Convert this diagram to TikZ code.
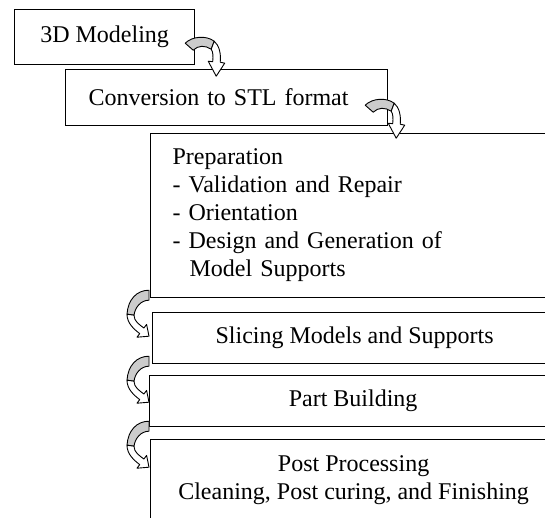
\documentclass[tikz,border=0pt]{standalone}
\usepackage{fontspec}
\setmainfont{Liberation Serif}
\usetikzlibrary{calc}
\definecolor{arrgray}{gray}{0.8}
\tikzset{
  box/.style={draw, line width=1.2pt, inner sep=0pt, anchor=north west,
    font=\fontsize{24}{28}\selectfont},
  arrline/.style={draw=black, line width=0.9pt, line join=round},
  pics/curvR/.style={code={
    \path[arrline, fill=arrgray] (-31,-33) .. controls (-24,-40) and (-10,-41) .. (-2,-35)
      -- (-5,-27) .. controls (-11,-31) and (-18,-31) .. (-23,-26) -- cycle;
    \path[arrline, fill=white] (-2,-35) .. controls (3,-31) and (5,-22) .. (4,-14)
      -- (8.5,-13) -- (0,0) -- (-8,-15) -- (-3.5,-14.5)
      .. controls (-3,-20) and (-3,-24) .. (-5,-27) -- cycle;
  }},
  pics/curvL/.style={code={
    \path[arrline, fill=arrgray] (0,0) .. controls (-12,0) and (-21,9) .. (-22,24)
      -- (-15,25) .. controls (-14,17) and (-8,10) .. (0,10) -- cycle;
    \path[arrline, fill=white] (-22,24) .. controls (-22,33) and (-15,39) .. (-9.3,43.4)
      -- (-12,47) -- (0,46) -- (-2.4,34.2) -- (-5.1,37.8)
      .. controls (-9.9,34.2) and (-15,31) .. (-15,25) -- cycle;
  }}
}
\begin{document}
\begin{tikzpicture}[x=1pt, y=-1pt]
\useasboundingbox (0,0) rectangle (545,518);
\clip (0,0) rectangle (545,518);
\fill[white] (0,0) rectangle (545,518);

\node[box, minimum width=180, minimum height=55] (m3d) at (14,9) {3D Modeling};
\node[box, text width=276, inner xsep=23, minimum height=56, align=left] (conv) at (65,69)
  {Conversion to STL format};
\node[box, text width=362, inner xsep=22, minimum height=164, align=left] (prep) at (150,133)
  {Preparation\\- Validation and Repair\\- Orientation\\- Design and Generation of\\\hspace*{17pt}Model Supports};
\node[box, minimum width=404, minimum height=51] (slice) at (152,312) {Slicing Models and Supports};
\node[box, minimum width=407, minimum height=51] (part) at (149,375) {Part Building};
\node[box, minimum width=406, minimum height=81, align=center] (post) at (150,439)
  {Post Processing\\Cleaning, Post curing, and Finishing};

\pic at ($(m3d.south east)+(21,11)$) {curvR};
\pic at ($(conv.south east)+(8,12)$) {curvR};
\pic at ($(prep.south west)+(-1,-8)$) {curvL};
\pic at ($(slice.south west)+(-3,-8)$) {curvL};
\pic at ($(part.south west)+(0,-6)$) {curvL};
\end{tikzpicture}
\end{document}
